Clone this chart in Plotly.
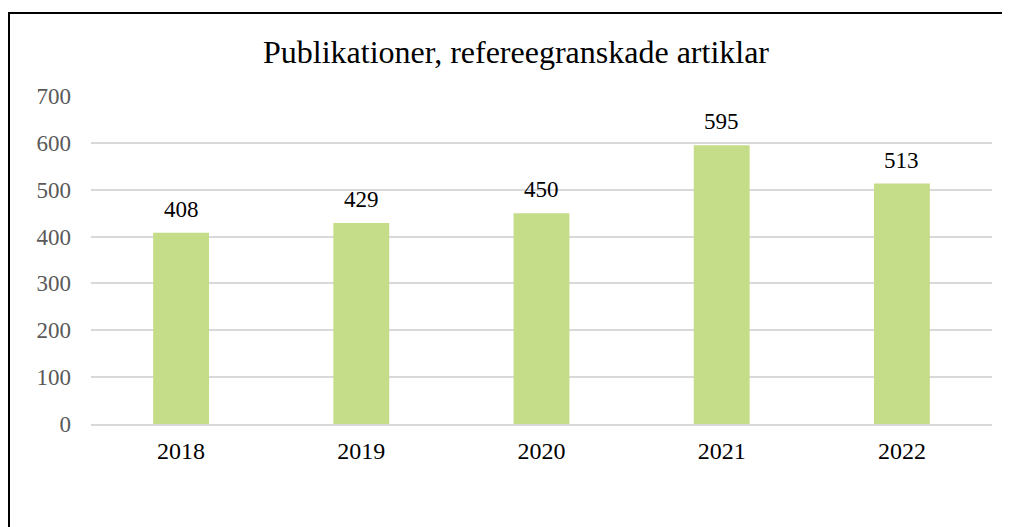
import plotly.graph_objects as go

years = ["2018", "2019", "2020", "2021", "2022"]
values = [408, 429, 450, 595, 513]
y_ticks = [0, 100, 200, 300, 400, 500, 600, 700]

fig = go.Figure(go.Bar(
    x=years, y=values,
    marker=dict(color="#C5DC89", line=dict(width=0)),
    width=0.31,
    hoverinfo="x+y",
))

# on a category axis, annotation x is the category's index
for i, v in enumerate(values):
    fig.add_annotation(x=i, y=v, text=str(v), showarrow=False,
                       xref="x", yref="y",
                       yanchor="bottom", yshift=9,
                       font=dict(family="Liberation Serif", size=23, color="#000000"))

# page body has an 8px margin, so figure coords = screen coords - 8
W, H = 1010, 527
L, T = 83, 88
R = W - 984
B = H - 416
pw, ph = W - L - R, H - T - B

fig.update_layout(
    width=W, height=H,
    margin=dict(l=L, r=R, t=T, b=B),
    paper_bgcolor="white", plot_bgcolor="white",
    showlegend=False,
    title=dict(text="Publikationer, refereegranskade artiklar",
               x=508 / W, xanchor="center", y=1 - 44 / H, yanchor="middle",
               font=dict(family="Liberation Serif", size=32, color="#000000")),
    font=dict(family="Liberation Serif"),
    xaxis=dict(type="category", categoryorder="array", categoryarray=years,
               range=[-0.5, len(years) - 0.5], autorange=False,
               showgrid=False, showline=True, linecolor="#D9D9D9",
               linewidth=1.5, ticks="", ticklabelstandoff=4,
               tickfont=dict(family="Liberation Serif", size=24, color="#000000")),
    yaxis=dict(range=[0, 700], autorange=False, tickvals=y_ticks, showgrid=True,
               gridcolor="#D9D9D9", gridwidth=1.5, zeroline=False, showline=False,
               ticks="", ticklabelstandoff=19,
               tickfont=dict(family="Liberation Serif", size=23, color="#595959")),
    shapes=[dict(type="rect", xref="paper", yref="paper",
                 x0=(1 - L) / pw, x1=(W + 20 - L) / pw,
                 y0=-(B + 30) / ph, y1=1 + (T - 5) / ph,
                 line=dict(color="#000000", width=2), fillcolor="rgba(0,0,0,0)")],
)

fig.write_html("out.html")
